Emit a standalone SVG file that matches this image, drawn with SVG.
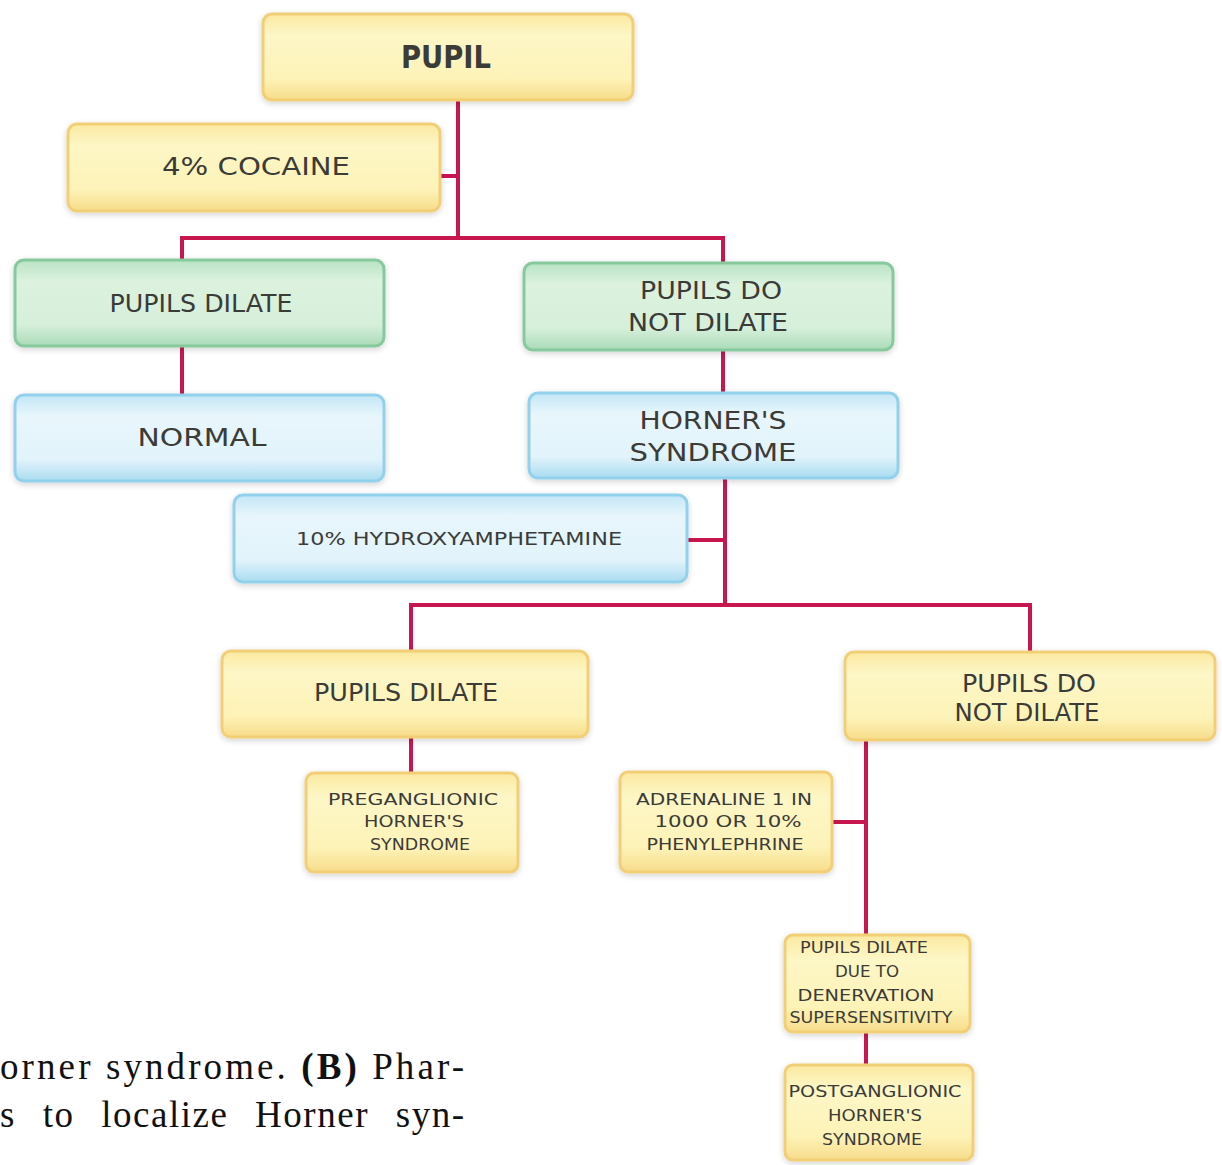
<svg xmlns="http://www.w3.org/2000/svg" width="1222" height="1165" viewBox="0 0 1222 1165">
<defs>
<linearGradient id="gy" x1="0" y1="0" x2="0" y2="1"><stop offset="0" stop-color="#fbe9a0"/><stop offset="0.25" stop-color="#fdf6c6"/><stop offset="0.75" stop-color="#fdf3b8"/><stop offset="1" stop-color="#f7dc8a"/></linearGradient>
<linearGradient id="gg" x1="0" y1="0" x2="0" y2="1"><stop offset="0" stop-color="#b9e3c4"/><stop offset="0.25" stop-color="#dcf2df"/><stop offset="0.75" stop-color="#d6efda"/><stop offset="1" stop-color="#a9dbb8"/></linearGradient>
<linearGradient id="gb" x1="0" y1="0" x2="0" y2="1"><stop offset="0" stop-color="#c3e6f6"/><stop offset="0.25" stop-color="#e8f6fc"/><stop offset="0.75" stop-color="#e2f3fb"/><stop offset="1" stop-color="#a9dcf1"/></linearGradient>
<filter id="sh" x="-10%" y="-10%" width="120%" height="130%"><feGaussianBlur in="SourceAlpha" stdDeviation="3"/><feOffset dx="0" dy="2"/><feComponentTransfer><feFuncA type="linear" slope="0.18"/></feComponentTransfer><feMerge><feMergeNode/><feMergeNode in="SourceGraphic"/></feMerge></filter>
</defs>
<style>
.y{fill:url(#gy);stroke:#f2cf76;stroke-width:3;filter:url(#sh)}
.g{fill:url(#gg);stroke:#86c99c;stroke-width:3;filter:url(#sh)}
.b{fill:url(#gb);stroke:#92d1ec;stroke-width:3;filter:url(#sh)}
.t{font-family:"DejaVu Sans","Liberation Sans",sans-serif;fill:#3b3b38;text-anchor:middle;dominant-baseline:central}
.l{font-size:25px}
.s{font-size:17px}
.xs{font-size:15px}
.c{stroke:#c8174f;stroke-width:4;fill:none}
.cap{font-family:"Liberation Serif",serif;font-size:37px;fill:#111}
</style>
<rect width="1222" height="1165" fill="#ffffff"/>
<g id="connectors">
<path class="c" d="M458 100V238M182 238H723M182 236V260M723 236V263M440 176H458"/>
<path class="c" d="M182 346V395M723 350V393"/>
<path class="c" d="M725 478V605M687 540H725M411 605H1030M411 603V651M1030 603V652"/>
<path class="c" d="M411 737V773M866 740V935M832 822H866M866 1032V1065"/>
</g>
<g id="n_pupil"><rect class="y" x="263" y="14" width="370" height="86" rx="9"/><text class="t" x="446" y="57" font-size="32" font-weight="bold" textLength="90" lengthAdjust="spacingAndGlyphs">PUPIL</text></g>
<g id="n_cocaine"><rect class="y" x="68" y="124" width="372" height="87" rx="9"/><text class="t l" x="256" y="166" textLength="188" lengthAdjust="spacingAndGlyphs">4% COCAINE</text></g>
<g id="n_dilate1"><rect class="g" x="15" y="260" width="369" height="86" rx="9"/><text class="t l" x="201" y="303" textLength="183" lengthAdjust="spacingAndGlyphs">PUPILS DILATE</text></g>
<g id="n_notdilate1"><rect class="g" x="524" y="263" width="369" height="87" rx="9"/><text class="t l" x="711" y="290" textLength="142" lengthAdjust="spacingAndGlyphs">PUPILS DO</text><text class="t l" x="708" y="322" textLength="160" lengthAdjust="spacingAndGlyphs">NOT DILATE</text></g>
<g id="n_normal"><rect class="b" x="15" y="395" width="369" height="86" rx="9"/><text class="t l" x="202" y="437" textLength="129" lengthAdjust="spacingAndGlyphs">NORMAL</text></g>
<g id="n_horner"><rect class="b" x="529" y="393" width="369" height="85" rx="9"/><text class="t l" x="713" y="420" textLength="147" lengthAdjust="spacingAndGlyphs">HORNER'S</text><text class="t l" x="713" y="452" textLength="167" lengthAdjust="spacingAndGlyphs">SYNDROME</text></g>
<g id="n_hydroxy"><rect class="b" x="234" y="495" width="453" height="87" rx="9"/><text class="t s" x="459" y="539" textLength="326" lengthAdjust="spacingAndGlyphs">10% HYDROXYAMPHETAMINE</text></g>
<g id="n_dilate2"><rect class="y" x="222" y="651" width="366" height="86" rx="9"/><text class="t l" x="406" y="692" textLength="184" lengthAdjust="spacingAndGlyphs">PUPILS DILATE</text></g>
<g id="n_notdilate2"><rect class="y" x="845" y="652" width="370" height="88" rx="9"/><text class="t l" x="1029" y="683" textLength="134" lengthAdjust="spacingAndGlyphs">PUPILS DO</text><text class="t l" x="1027" y="712" textLength="145" lengthAdjust="spacingAndGlyphs">NOT DILATE</text></g>
<g id="n_pregang"><rect class="y" x="306" y="773" width="212" height="99" rx="8"/><text class="t xs" x="413" y="800" textLength="170" lengthAdjust="spacingAndGlyphs">PREGANGLIONIC</text><text class="t xs" x="414" y="822" textLength="100" lengthAdjust="spacingAndGlyphs">HORNER'S</text><text class="t xs" x="420" y="845" textLength="100" lengthAdjust="spacingAndGlyphs">SYNDROME</text></g>
<g id="n_adrenaline"><rect class="y" x="620" y="772" width="212" height="100" rx="8"/><text class="t xs" x="724" y="800" textLength="176" lengthAdjust="spacingAndGlyphs">ADRENALINE 1 IN</text><text class="t xs" x="728" y="822" textLength="147" lengthAdjust="spacingAndGlyphs">1000  OR 10%</text><text class="t xs" x="725" y="845" textLength="157" lengthAdjust="spacingAndGlyphs">PHENYLEPHRINE</text></g>
<g id="n_denerv"><rect class="y" x="785" y="935" width="185" height="97" rx="8"/><text class="t xs" x="864" y="948" textLength="128" lengthAdjust="spacingAndGlyphs">PUPILS DILATE</text><text class="t xs" x="867" y="972" textLength="64" lengthAdjust="spacingAndGlyphs">DUE TO</text><text class="t xs" x="866" y="996" textLength="137" lengthAdjust="spacingAndGlyphs">DENERVATION</text><text class="t xs" x="871" y="1018" textLength="163" lengthAdjust="spacingAndGlyphs">SUPERSENSITIVITY</text></g>
<g id="n_postgang"><rect class="y" x="785" y="1065" width="188" height="95" rx="8"/><text class="t xs" x="875" y="1092" textLength="173" lengthAdjust="spacingAndGlyphs">POSTGANGLIONIC</text><text class="t xs" x="875" y="1116" textLength="94" lengthAdjust="spacingAndGlyphs">HORNER'S</text><text class="t xs" x="872" y="1140" textLength="100" lengthAdjust="spacingAndGlyphs">SYNDROME</text></g>
<g id="caption">
<text class="cap" x="0" y="1079" letter-spacing="2" textLength="466" lengthAdjust="spacing">orner syndrome. <tspan font-weight="bold">(B)</tspan> Phar-</text>
<text class="cap" x="0" y="1127" letter-spacing="1" word-spacing="16" textLength="465" lengthAdjust="spacing">s to localize Horner syn-</text>
</g>
</svg>
